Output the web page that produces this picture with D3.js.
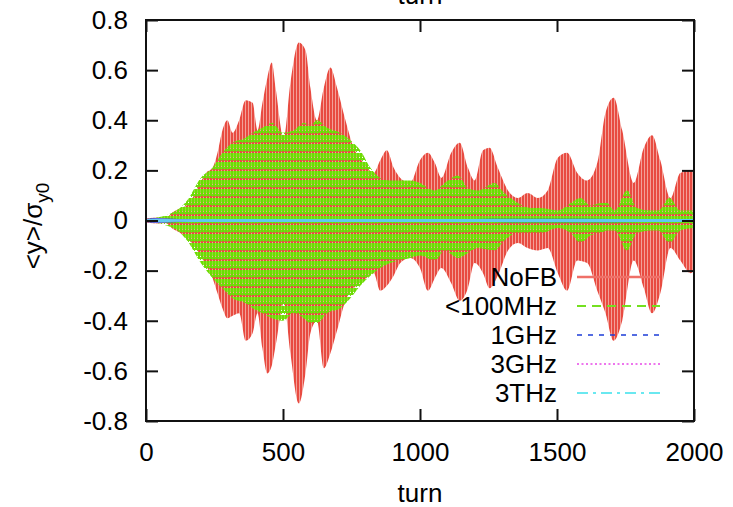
<!DOCTYPE html>
<html>
<head>
<meta charset="utf-8">
<script src="https://d3js.org/d3.v7.min.js"></script>
<style>
body { margin: 0; background: #fff; }
text { font-family: "Liberation Sans", Arial, Helvetica, sans-serif; fill: #000; }
</style>
</head>
<body>
<div id="chart"></div>
<script>
// envelope of <y>/sigma_y0
var noFbTurn = [0, 50, 70, 100, 121, 158, 188, 219, 243, 261, 279, 297, 316, 340, 364, 389, 407, 425, 443, 459, 473, 503, 527, 558, 582, 600, 624, 649, 673, 697, 728, 758, 794, 831, 855, 879, 904, 928, 964, 1000, 1029, 1054, 1078, 1114, 1145, 1175, 1199, 1230, 1254, 1284, 1321, 1357, 1393, 1430, 1466, 1503, 1537, 1574, 1610, 1647, 1677, 1707, 1738, 1780, 1817, 1847, 1877, 1914, 1950, 1987, 2000];
var noFbHi = [0.008, 0.012, 0.010, 0.035, 0.047, 0.07, 0.13, 0.19, 0.21, 0.27, 0.36, 0.40, 0.35, 0.40, 0.48, 0.47, 0.36, 0.47, 0.57, 0.63, 0.53, 0.33, 0.55, 0.71, 0.68, 0.53, 0.40, 0.53, 0.61, 0.53, 0.40, 0.29, 0.23, 0.19, 0.24, 0.28, 0.21, 0.17, 0.15, 0.24, 0.27, 0.23, 0.17, 0.27, 0.31, 0.21, 0.16, 0.28, 0.29, 0.21, 0.12, 0.09, 0.11, 0.09, 0.12, 0.25, 0.27, 0.19, 0.16, 0.23, 0.43, 0.49, 0.36, 0.15, 0.29, 0.34, 0.24, 0.09, 0.19, 0.20, 0.19];
var noFbLo = [-0.008, -0.012, -0.010, -0.035, -0.047, -0.08, -0.12, -0.18, -0.23, -0.29, -0.35, -0.39, -0.38, -0.37, -0.48, -0.45, -0.37, -0.51, -0.61, -0.58, -0.50, -0.33, -0.53, -0.73, -0.61, -0.45, -0.40, -0.59, -0.53, -0.44, -0.32, -0.27, -0.24, -0.21, -0.28, -0.26, -0.22, -0.17, -0.15, -0.19, -0.28, -0.23, -0.19, -0.25, -0.32, -0.27, -0.17, -0.21, -0.27, -0.22, -0.12, -0.09, -0.11, -0.12, -0.11, -0.21, -0.28, -0.16, -0.17, -0.28, -0.37, -0.48, -0.40, -0.16, -0.27, -0.37, -0.29, -0.11, -0.16, -0.21, -0.20];

var lowTurn = [0, 100, 150, 200, 243, 279, 316, 364, 389, 425, 461, 498, 540, 576, 600, 624, 661, 709, 746, 782, 819, 855, 891, 928, 964, 1000, 1054, 1090, 1139, 1175, 1211, 1272, 1308, 1357, 1406, 1442, 1503, 1550, 1586, 1622, 1660, 1683, 1710, 1756, 1792, 1841, 1870, 1910, 1950, 2000];
var lowHi = [0.005, 0.033, 0.08, 0.17, 0.21, 0.27, 0.31, 0.33, 0.35, 0.37, 0.39, 0.35, 0.36, 0.39, 0.38, 0.40, 0.37, 0.35, 0.32, 0.28, 0.21, 0.17, 0.16, 0.16, 0.16, 0.15, 0.12, 0.15, 0.18, 0.13, 0.12, 0.15, 0.11, 0.07, 0.05, 0.05, 0.04, 0.07, 0.09, 0.06, 0.07, 0.07, 0.04, 0.12, 0.05, 0.04, 0.04, 0.09, 0.04, 0.04];
var lowLo = [-0.005, -0.03, -0.08, -0.17, -0.23, -0.27, -0.31, -0.33, -0.35, -0.37, -0.39, -0.40, -0.37, -0.39, -0.41, -0.41, -0.37, -0.35, -0.31, -0.26, -0.22, -0.19, -0.17, -0.16, -0.15, -0.14, -0.16, -0.12, -0.15, -0.13, -0.11, -0.12, -0.08, -0.05, -0.05, -0.05, -0.03, -0.05, -0.09, -0.06, -0.05, -0.04, -0.04, -0.12, -0.05, -0.04, -0.04, -0.09, -0.04, -0.03];

var smallTurn = [0, 40, 80, 120, 200, 400, 600, 800, 1000, 1200, 1400, 1600, 1800, 2000];
var ghz1Amp = [0.006, 0.010, 0.008, 0.006, 0.006, 0.006, 0.005, 0.006, 0.005, 0.006, 0.007, 0.007, 0.006, 0.006];
var ghz3Amp = [0.005, 0.008, 0.007, 0.005, 0.005, 0.005, 0.005, 0.005, 0.005, 0.005, 0.005, 0.005, 0.005, 0.005];
var thzAmp = [0.005, 0.007, 0.006, 0.005, 0.006, 0.006, 0.006, 0.006, 0.006, 0.006, 0.006, 0.006, 0.006, 0.006];

var xTicks = [0, 500, 1000, 1500, 2000];
var yTicks = [-0.8, -0.6, -0.4, -0.2, 0, 0.2, 0.4, 0.6, 0.8];
var legendNames = ["NoFB", "<100MHz", "1GHz", "3GHz", "3THz"];

var W = 733, H = 507;
var pLeft = 146, pRight = 694, pTop = 20, pBottom = 421;

var svg = d3.select("#chart").append("svg")
  .attr("width", W).attr("height", H);

var x = d3.scaleLinear().domain([0, 2000]).range([pLeft, pRight]);
var y = d3.scaleLinear().domain([-0.8, 0.8]).range([pBottom, pTop]);

// stripe patterns so the fast oscillation looks like dense vertical lines
var defs = svg.append("defs");
var pr = defs.append("pattern").attr("id", "redStripe")
  .attr("patternUnits", "userSpaceOnUse").attr("width", 3).attr("height", 4);
pr.append("rect").attr("width", 3).attr("height", 4).attr("fill", "#f3a098");
pr.append("rect").attr("width", 2).attr("height", 4).attr("fill", "#e84b41");

var pg = defs.append("pattern").attr("id", "greenStripe")
  .attr("patternUnits", "userSpaceOnUse").attr("width", 3).attr("height", 9);
pg.append("rect").attr("width", 2).attr("height", 7).attr("fill", "#6cdc04");
pg.append("rect").attr("x", 2).attr("width", 1).attr("height", 4).attr("fill", "#8fe030");
pg.append("rect").attr("x", 2).attr("y", 5).attr("width", 1).attr("height", 3).attr("fill", "#78d818");

function band(turns, hi, lo) {
  var pts = turns.map(function(t, i) { return {t: t, hi: hi[i], lo: lo[i]}; });
  return d3.area()
    .x(function(d) { return x(d.t); })
    .y0(function(d) { return y(d.lo); })
    .y1(function(d) { return y(d.hi); })
    .curve(d3.curveMonotoneX)(pts);
}
function neg(a) { return a.map(function(v) { return -v; }); }

svg.append("path").attr("d", band(noFbTurn, noFbHi, noFbLo)).attr("fill", "url(#redStripe)");
svg.append("path").attr("d", band(lowTurn, lowHi, lowLo)).attr("fill", "url(#greenStripe)");
svg.append("path").attr("d", band(smallTurn, ghz1Amp, neg(ghz1Amp))).attr("fill", "#2448dc");
svg.append("path").attr("d", band(smallTurn, ghz3Amp, neg(ghz3Amp))).attr("fill", "#e060e8").attr("opacity", 0.7);
svg.append("path").attr("d", band(smallTurn, thzAmp, neg(thzAmp))).attr("fill", "#5ad6f2").attr("opacity", 0.9);

// axes: inward ticks on all four sides
function styleAxis(g) {
  g.select(".domain").remove();
  g.selectAll(".tick line").attr("stroke", "#111").attr("stroke-width", 2);
  g.selectAll(".tick text").style("font-size", "26px").attr("fill", "#000");
}
svg.append("g").attr("transform", "translate(0," + pBottom + ")")
  .call(d3.axisBottom(x).tickValues(xTicks).tickSize(-12).tickPadding(22).tickFormat(function(d) { return String(d); }))
  .call(styleAxis);
svg.append("g").attr("transform", "translate(0," + pTop + ")")
  .call(d3.axisTop(x).tickValues(xTicks).tickSize(-12).tickFormat(""))
  .call(styleAxis);
svg.append("g").attr("transform", "translate(" + pLeft + ",0)")
  .call(d3.axisLeft(y).tickValues(yTicks).tickSize(-12).tickPadding(18).tickFormat(function(d) { return String(+d.toFixed(1)); }))
  .call(styleAxis);
svg.append("g").attr("transform", "translate(" + pRight + ",0)")
  .call(d3.axisRight(y).tickValues(yTicks).tickSize(-12).tickFormat(""))
  .call(styleAxis);

svg.append("rect")
  .attr("x", pLeft).attr("y", pTop)
  .attr("width", pRight - pLeft).attr("height", pBottom - pTop)
  .attr("fill", "none").attr("stroke", "#111").attr("stroke-width", 2);

// legend
var legStyle = [
  {color: "#ef7068", dash: null, w: 2.5},
  {color: "#74e020", dash: "9,6", w: 2},
  {color: "#1c3cd8", dash: "5,6", w: 1.6},
  {color: "#e848e8", dash: "2,2.5", w: 1.6},
  {color: "#6ae8f0", dash: "11,5,3,5", w: 2}
];
var legY = [277, 306, 335, 364, 393];
var leg = svg.append("g");
legendNames.forEach(function(name, i) {
  leg.append("text")
    .attr("x", 557).attr("y", legY[i]).attr("dy", "0.35em")
    .attr("text-anchor", "end").style("font-size", "26px")
    .text(name);
  var ln = leg.append("line")
    .attr("x1", 577).attr("x2", 660)
    .attr("y1", legY[i]).attr("y2", legY[i])
    .attr("stroke", legStyle[i].color).attr("stroke-width", legStyle[i].w);
  if (legStyle[i].dash) ln.attr("stroke-dasharray", legStyle[i].dash);
});

// labels
svg.append("text").attr("x", 420).attr("y", 502)
  .attr("text-anchor", "middle").style("font-size", "26px").text("turn");
svg.append("text").attr("x", 420).attr("y", 4)
  .attr("text-anchor", "middle").style("font-size", "26px").text("turn");

var yl = svg.append("text")
  .attr("transform", "translate(42,226) rotate(-90)")
  .attr("text-anchor", "middle").style("font-size", "26px");
yl.append("tspan").text("<y>/σ");
yl.append("tspan").attr("dy", 7).style("font-size", "19px").text("y0");
</script>
</body>
</html>
